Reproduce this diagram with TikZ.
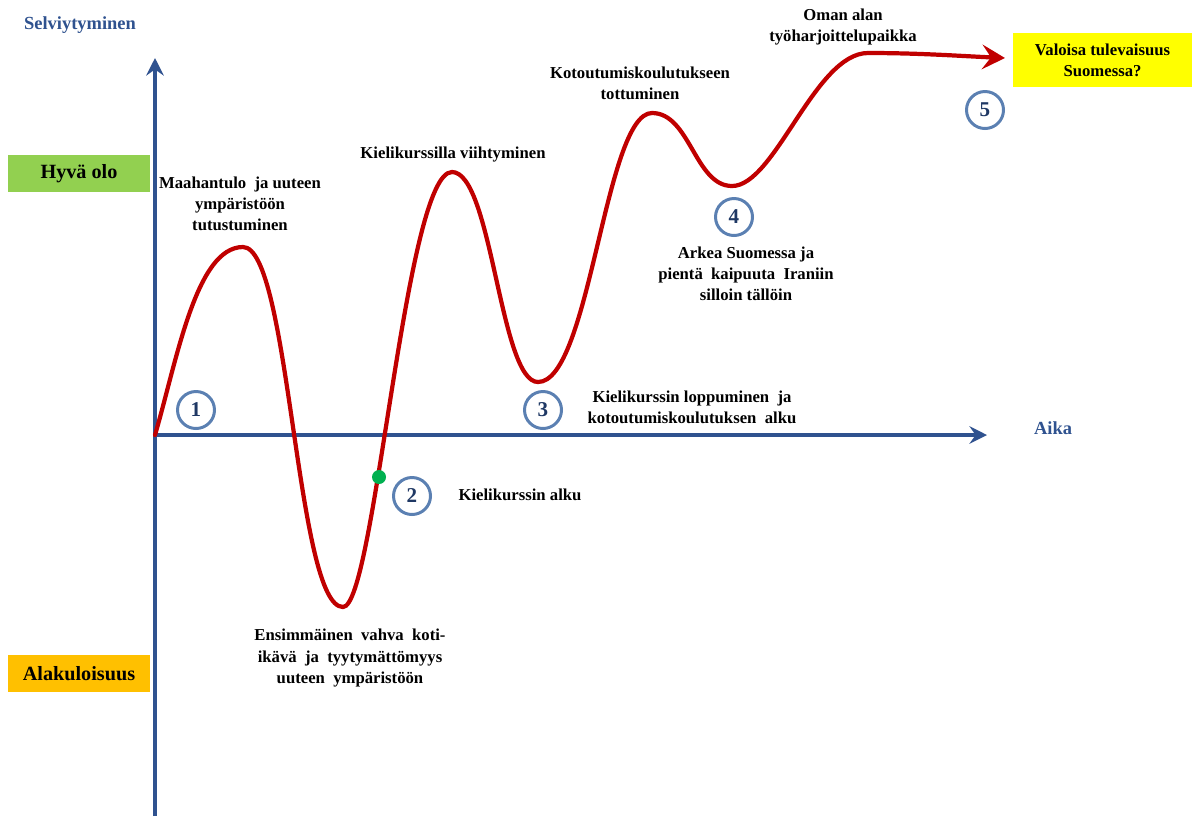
\documentclass[tikz,border=0pt]{standalone}
\usepackage{fontspec}
\setmainfont{Liberation Serif}
\usetikzlibrary{arrows.meta, positioning}
\definecolor{akseli}{RGB}{47,82,143}
\definecolor{ympyra}{RGB}{91,128,178}
\definecolor{numero}{RGB}{31,56,100}
\definecolor{kayra}{RGB}{192,0,0}
\definecolor{vihrea}{RGB}{146,208,80}
\definecolor{oranssi}{RGB}{255,192,0}
\definecolor{keltainen}{RGB}{255,255,0}
\definecolor{piste}{RGB}{0,176,80}

\begin{document}
\begin{tikzpicture}[x=0.02cm, y=0.02cm]
\tikzstyle{every node}+=[inner sep=0pt, font=\bfseries\fontsize{9.5}{12}\selectfont]
\tikzstyle{selite}=[align=center]
\tikzstyle{luku}=[circle, draw=ympyra, line width=1.7pt, minimum size=0.74cm, text=numero, font=\bfseries\fontsize{12}{12}\selectfont]
\tikzstyle{taso}=[minimum width=2.84cm, minimum height=0.74cm, font=\bfseries\fontsize{11.5}{12}\selectfont]
\useasboundingbox (0,0) rectangle (1192,-816);
% akselit
\coordinate (origo) at (155,-435);
\coordinate (ylos) at (155,-58);
\coordinate (alas) at (155,-816);
\coordinate (oikea) at (987,-435);
\draw [akseli, line width=1.8pt, -{Stealth[length=10pt, width=10pt, inset=3.5pt]}] (alas) -- (ylos);
\draw [akseli, line width=1.8pt, -{Stealth[length=10pt, width=10pt, inset=3.5pt]}] (origo) -- (oikea);
\draw (80,-25) node [text=akseli, font=\bfseries\fontsize{10.5}{12}\selectfont] (selv) {Selviytyminen};
\draw (1053,-428) node [text=akseli, font=\bfseries\fontsize{10.5}{12}\selectfont] (aika) {Aika};
% tasot
\draw (79,-173.5) node [taso, fill=vihrea] (hyva) {Hyvä olo};
\draw (79,-673.5) node [taso, fill=oranssi] (ala) {Alakuloisuus};
\draw (1102.5,-60) node [fill=keltainen, minimum width=3.58cm, minimum height=1.08cm, align=center] (tulevaisuus) {Valoisa tulevaisuus\\Suomessa?};
% kayra
\coordinate (p1) at (243,-247);
\coordinate (p2) at (343,-607);
\coordinate (p3) at (452,-172);
\coordinate (p4) at (538,-382);
\coordinate (p5) at (652,-113);
\coordinate (p6) at (732,-186);
\coordinate (p7) at (868,-53);
\coordinate (karki) at (1005,-58);
\draw [kayra, line width=2.4pt, line cap=round, -{Stealth[length=13pt, width=14pt, inset=5pt]}]
  (origo) .. controls (177,-360) and (196,-247) .. (p1)
  .. controls (290,-247) and (296,-607) .. (p2)
  .. controls (375,-607) and (405,-172) .. (p3)
  .. controls (492,-172) and (500,-382) .. (p4)
  .. controls (590,-382) and (605,-113) .. (p5)
  .. controls (690,-113) and (695,-186) .. (p6)
  .. controls (775,-186) and (815,-53) .. (p7)
  .. controls (920,-53) and (960,-56) .. (karki);
\draw (379,-477) node [circle, fill=piste, minimum size=0.28cm] (alkupiste) {};
% numerot
\draw (196,-410) node [luku] (n1) {1};
\draw (412,-496) node [luku] (n2) {2};
\draw (543,-410) node [luku] (n3) {3};
\draw (734,-217) node [luku] (n4) {4};
\draw (985,-110) node [luku] (n5) {5};
% selitteet
\draw (240,-204) node [selite] (maahantulo) {Maahantulo \ ja uuteen\\ympäristöön\\tutustuminen};
\draw (453,-155) node [selite] (viihtyminen) {Kielikurssilla viihtyminen};
\draw (640,-83) node [selite] (tottuminen) {Kotoutumiskoulutukseen\\tottuminen};
\draw (843,-27) node [selite] (harjoittelu) {Oman alan\\työharjoittelupaikka};
\draw (692,-407) node [selite] (loppuminen) {Kielikurssin loppuminen \ ja\\kotoutumiskoulutuksen \ alku};
\draw (520,-495) node [selite] (alku) {Kielikurssin alku};
\draw (350,-658) node [selite] (ensimmainen) {Ensimmäinen \ vahva \ koti-\\ikävä \ ja \ tyytymättömyys\\uuteen \ ympäristöön};
\draw (746,-274) node [selite] (arkea) {Arkea Suomessa ja\\pientä \ kaipuuta \ Iraniin\\silloin tällöin};
\end{tikzpicture}
\end{document}
